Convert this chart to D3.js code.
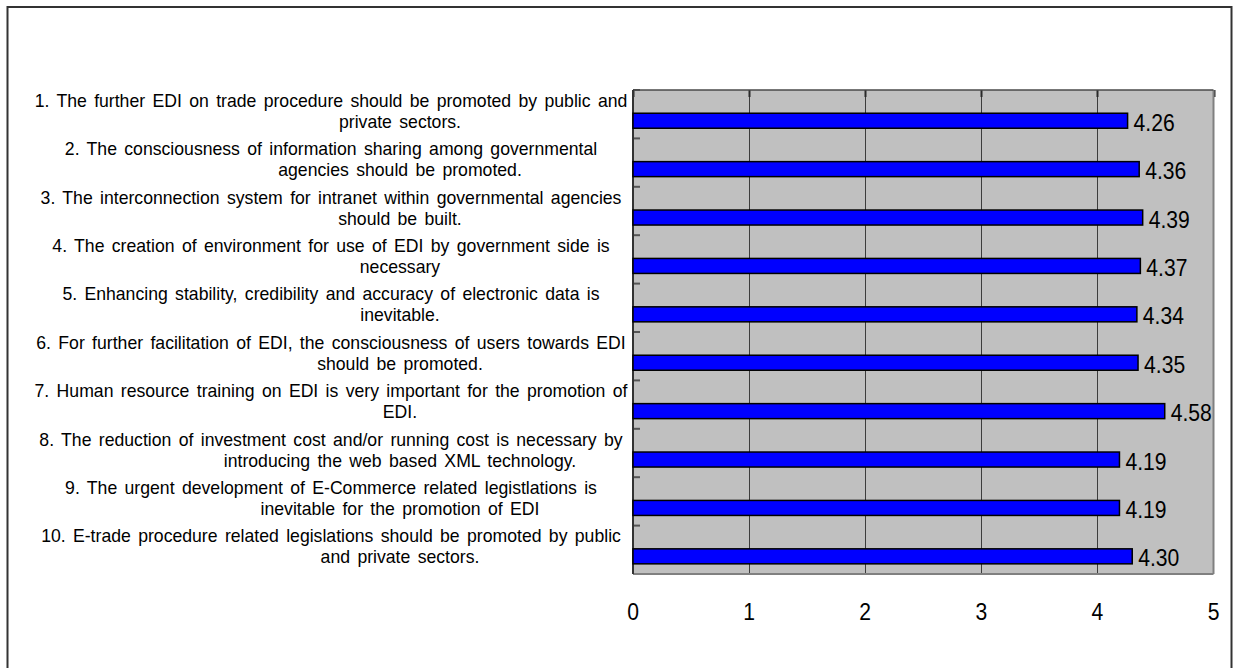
<!DOCTYPE html>
<html>
<head>
<meta charset="utf-8">
<script src="https://cdn.jsdelivr.net/npm/d3@7"></script>
<style>
  body { margin: 0; background: #ffffff; }
  svg { display: block; font-family: "Liberation Sans", Arial, sans-serif; }
</style>
</head>
<body>
<svg id="chart" width="1234" height="668"></svg>
<script>
// Survey statements (two wrapped lines each) and their mean scores
const statements = [
  ["1. The further EDI on trade procedure should be promoted by public and", "private sectors."],
  ["2. The consciousness of information sharing among governmental", "agencies should be promoted."],
  ["3. The interconnection system for intranet within governmental agencies", "should be built."],
  ["4. The creation of environment for use of EDI by government side is", "necessary"],
  ["5. Enhancing stability, credibility and accuracy of electronic data is", "inevitable."],
  ["6. For further facilitation of EDI, the consciousness of users towards EDI", "should be promoted."],
  ["7. Human resource training on EDI is very important for the promotion of", "EDI."],
  ["8. The reduction of investment cost and/or running cost is necessary by", "introducing the web based XML technology."],
  ["9. The urgent development of E-Commerce related legistlations is", "inevitable for the promotion of EDI"],
  ["10. E-trade procedure related legislations should be promoted by public", "and private sectors."]
];
const scores = [4.26, 4.36, 4.39, 4.37, 4.34, 4.35, 4.58, 4.19, 4.19, 4.30];
const xTicks = [0, 1, 2, 3, 4, 5];

const svg = d3.select("#chart");
const plot = { left: 633, right: 1213.5, top: 90, bottom: 574 };

// outer frame
svg.append("rect")
  .attr("x", 7.5).attr("y", 7).attr("width", 1224).attr("height", 700)
  .attr("fill", "#ffffff").attr("stroke", "#333333").attr("stroke-width", 2);

const ids = statements.map((d, i) => i);
const x = d3.scaleLinear().domain([0, 5]).range([plot.left, plot.right]);
const y = d3.scaleBand().domain(ids).range([plot.top, plot.bottom]).padding(0);
const bw = y.bandwidth();

// plot background
svg.append("rect")
  .attr("x", plot.left).attr("y", plot.top)
  .attr("width", plot.right - plot.left).attr("height", plot.bottom - plot.top)
  .attr("fill", "#c0c0c0");

// vertical gridlines
svg.append("g").selectAll("line")
  .data(xTicks.filter(t => t > 0 && t < 5))
  .join("line")
  .attr("x1", d => Math.round(x(d)) + 0.5).attr("x2", d => Math.round(x(d)) + 0.5)
  .attr("y1", plot.top).attr("y2", plot.bottom)
  .attr("stroke", "#3c3c3c").attr("stroke-width", 1);

// small tick marks along the top edge
svg.append("g").selectAll("line")
  .data(xTicks)
  .join("line")
  .attr("x1", d => Math.round(x(d)) + 0.5).attr("x2", d => Math.round(x(d)) + 0.5)
  .attr("y1", plot.top).attr("y2", plot.top + 7)
  .attr("stroke", "#2a2a2a").attr("stroke-width", 2);

// category boundary ticks on the left axis
const bounds = d3.range(statements.length + 1).map(i => plot.top + i * bw);
svg.append("g").selectAll("line")
  .data(bounds)
  .join("line")
  .attr("x1", plot.left).attr("x2", plot.left + 7)
  .attr("y1", d => d).attr("y2", d => d)
  .attr("stroke", "#555555").attr("stroke-width", 2);

// plot borders
svg.append("line").attr("x1", plot.left).attr("x2", plot.right)
  .attr("y1", plot.bottom).attr("y2", plot.bottom)
  .attr("stroke", "#808080").attr("stroke-width", 2);
svg.append("line").attr("x1", plot.right).attr("x2", plot.right)
  .attr("y1", plot.top).attr("y2", plot.bottom)
  .attr("stroke", "#808080").attr("stroke-width", 2);
svg.append("line").attr("x1", plot.left).attr("x2", plot.right)
  .attr("y1", plot.top).attr("y2", plot.top)
  .attr("stroke", "#4a4a4a").attr("stroke-width", 1.5);
svg.append("line").attr("x1", plot.left).attr("x2", plot.left)
  .attr("y1", plot.top).attr("y2", plot.bottom)
  .attr("stroke", "#333333").attr("stroke-width", 2);

// bars
svg.append("g").selectAll("rect")
  .data(scores)
  .join("rect")
  .attr("x", x(0))
  .attr("y", (d, i) => y(i) + bw * 0.48)
  .attr("width", d => x(d) - x(0))
  .attr("height", bw * 0.31)
  .attr("fill", "#0000ff")
  .attr("stroke", "#000000").attr("stroke-width", 1.5);

// value labels
svg.append("g").selectAll("text")
  .data(scores)
  .join("text")
  .attr("transform", (d, i) => `translate(${x(d) + 6},${y(i) + bw * 0.635 + 10}) scale(0.88,1)`)
  .attr("font-size", 24)
  .attr("fill", "#000")
  .text(d => d.toFixed(2));

// x tick labels
svg.append("g").selectAll("text")
  .data(xTicks)
  .join("text")
  .attr("transform", d => `translate(${x(d)},620) scale(0.88,1)`)
  .attr("text-anchor", "middle")
  .attr("font-size", 24)
  .attr("fill", "#000")
  .text(d => d);

// category labels, two lines each
const labelG = svg.append("g")
  .attr("font-size", 18)
  .attr("word-spacing", 2.5)
  .attr("fill", "#000");
statements.forEach((lines, i) => {
  const cy = y(i) + bw / 2 - 3.5;
  labelG.append("text")
    .attr("transform", `translate(331,${cy - 10.5 + 6.5}) scale(0.98,1)`)
    .attr("text-anchor", "middle")
    .text(lines[0]);
  labelG.append("text")
    .attr("transform", `translate(400,${cy + 10.5 + 6.5}) scale(0.98,1)`)
    .attr("text-anchor", "middle")
    .text(lines[1]);
});
</script>
</body>
</html>
